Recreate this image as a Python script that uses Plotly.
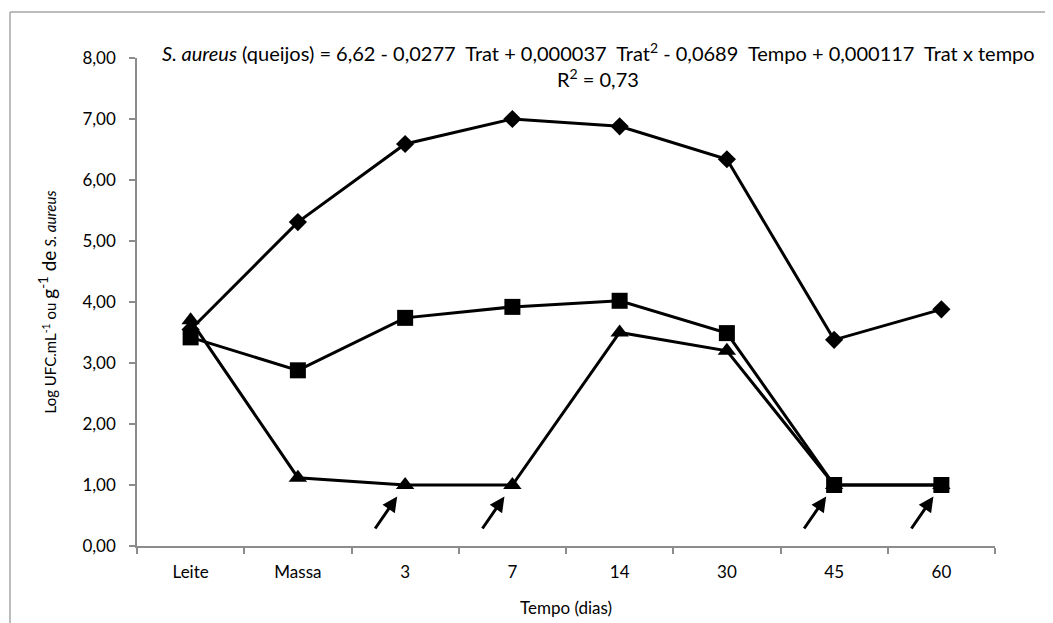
import plotly.graph_objects as go

categories = ["Leite", "Massa", "3", "7", "14", "30", "45", "60"]
serie_losango = [3.55, 5.31, 6.59, 7.00, 6.88, 6.34, 3.38, 3.88]
serie_quadrado = [3.42, 2.88, 3.74, 3.92, 4.02, 3.49, 1.00, 1.00]
serie_triangulo = [3.70, 1.12, 1.00, 1.00, 3.50, 3.20, 1.00, 1.00]
arrow_cats = ["3", "7", "45", "60"]
arrow_vals = [1.00, 1.00, 1.00, 1.00]
y_ticks = [0, 1, 2, 3, 4, 5, 6, 7, 8]

# page body has an 8px margin; figure coordinates are offset accordingly
OFF = 8
W, H = 1053, 623
ML, MR, MT, MB = 137 - OFF, 66, 58 - OFF, 85
FONT = "Lato"
AX = "#8c8c8c"

fig = go.Figure()
fig.add_trace(go.Scatter(x=categories, y=serie_losango, mode="lines+markers",
                         line=dict(color="black", width=3),
                         marker=dict(symbol="diamond", size=14, color="black"),
                         showlegend=False))
fig.add_trace(go.Scatter(x=categories, y=serie_triangulo, mode="lines+markers",
                         line=dict(color="black", width=3),
                         marker=dict(symbol="triangle-up", size=16, color="black"),
                         showlegend=False))
fig.add_trace(go.Scatter(x=categories, y=serie_quadrado, mode="lines+markers",
                         line=dict(color="black", width=3),
                         marker=dict(symbol="square", size=16, color="black"),
                         showlegend=False))

annotations = []
for c, v in zip(arrow_cats, arrow_vals):
    annotations.append(dict(x=categories.index(c), y=v, xref="x", yref="y", ax=-31, ay=45,
                            showarrow=True, arrowhead=2, arrowsize=1,
                            arrowwidth=3, arrowcolor="black", standoff=14, text=""))

pw = W - ML - MR
ph = H - MT - MB


def px(xp):
    return (xp - OFF - ML) / pw


def py(yp):
    return (H - MB - (yp - OFF)) / ph


annotations.append(dict(
    text="<i>S. aureus</i> (queijos) = 6,62 - 0,0277  Trat + 0,000037  Trat<sup>2</sup> - 0,0689  Tempo + 0,000117  Trat x tempo",
    x=px(598), y=py(52), xref="paper", yref="paper",
    showarrow=False, xanchor="center", yanchor="middle",
    font=dict(family=FONT, size=20, color="black")))
annotations.append(dict(
    text="R<sup>2</sup> = 0,73",
    x=px(598), y=py(78), xref="paper", yref="paper",
    showarrow=False, xanchor="center", yanchor="middle",
    font=dict(family=FONT, size=20, color="black")))

shapes = [
    dict(type="line", xref="paper", yref="paper",
         x0=px(10), x1=px(10), y0=py(12), y1=py(640),
         line=dict(color="#a6a6a6", width=1.5)),
    dict(type="line", xref="paper", yref="paper",
         x0=px(10), x1=px(1070), y0=py(12), y1=py(12),
         line=dict(color="#a6a6a6", width=1.5)),
]

fig.update_layout(
    width=W, height=H,
    margin=dict(l=ML, r=MR, t=MT, b=MB, autoexpand=False),
    paper_bgcolor="white", plot_bgcolor="white",
    separators=",.",
    font=dict(family=FONT, size=17, color="black"),
    annotations=annotations, shapes=shapes,
    xaxis=dict(type="category", categoryorder="array", categoryarray=categories,
               range=[-0.5, 7.5], showgrid=False, zeroline=False, automargin=False,
               showline=True, linecolor=AX, linewidth=1.5,
               ticks="outside", tickson="boundaries", ticklen=6, tickcolor=AX, tickwidth=1.5,
               ticklabelstandoff=10,
               tickfont=dict(family=FONT, size=17, color="black"),
               title=dict(text="Tempo (dias)", standoff=21,
                          font=dict(family=FONT, size=17, color="black"))),
    yaxis=dict(range=[0, 8], tickvals=y_ticks, tickformat=".2f",
               showgrid=False, zeroline=False, automargin=False,
               showline=True, linecolor=AX, linewidth=1.5,
               ticks="outside", ticklen=6, tickcolor=AX, tickwidth=1.5,
               ticklabelstandoff=10,
               tickfont=dict(family=FONT, size=17, color="black"),
               title=dict(text="Log UFC.mL<sup>-1</sup> ou <span style='font-size:19px'>g<sup>-1</sup> de</span> <i>S. aureus</i>",
                          standoff=22,
                          font=dict(family=FONT, size=15, color="black"))),
)

fig.write_html("out.html")
